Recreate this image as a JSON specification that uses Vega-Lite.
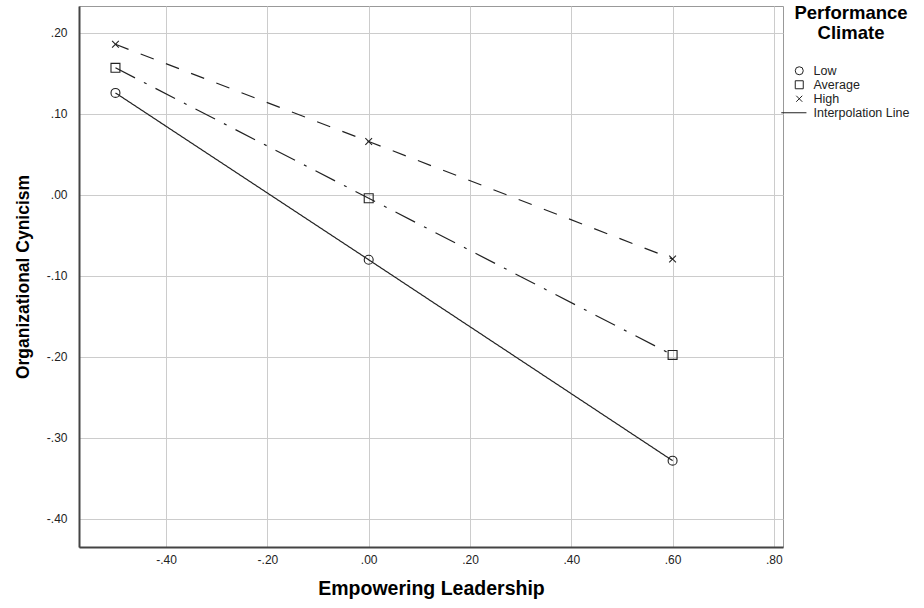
{
  "$schema": "https://vega.github.io/schema/vega-lite/v6.json",
  "width": 704,
  "height": 541,
  "autosize": {"type": "none"},
  "padding": {"left": 79, "top": 6, "right": 141, "bottom": 61},
  "background": "white",
  "config": {
    "font": "Liberation Sans",
    "view": {"stroke": "#999", "strokeWidth": 1}
  },
  "data": {
    "values": [
      {"x": -0.5, "y": 0.126, "series": "Low"},
      {"x": 0.0, "y": -0.080, "series": "Low"},
      {"x": 0.6, "y": -0.328, "series": "Low"},
      {"x": -0.5, "y": 0.157, "series": "Average"},
      {"x": 0.0, "y": -0.004, "series": "Average"},
      {"x": 0.6, "y": -0.1975, "series": "Average"},
      {"x": -0.5, "y": 0.186, "series": "High"},
      {"x": 0.0, "y": 0.066, "series": "High"},
      {"x": 0.6, "y": -0.079, "series": "High"}
    ]
  },
  "encoding": {
    "x": {
      "field": "x", "type": "quantitative",
      "scale": {"domain": [-0.572, 0.818], "nice": false, "zero": false},
      "axis": {
        "title": "Empowering Leadership",
        "values": [-0.4, -0.2, 0, 0.2, 0.4, 0.6, 0.8],
        "labelExpr": "(datum.value < -0.0001 ? '-' : '') + replace(format(abs(datum.value), '.2f'), '0.', '.')",
        "grid": true, "gridColor": "#cccccc", "gridWidth": 1,
        "ticks": false,
        "domain": true, "domainColor": "#444", "domainWidth": 2,
        "labelFontSize": 12, "labelColor": "#222", "labelPadding": 7,
        "titleFontSize": 19.5, "titleFontWeight": "bold", "titleColor": "#000", "titlePadding": 14
      }
    },
    "y": {
      "field": "y", "type": "quantitative",
      "scale": {"domain": [-0.4346, 0.2333], "nice": false, "zero": false},
      "axis": {
        "title": "Organizational Cynicism",
        "values": [-0.4, -0.3, -0.2, -0.1, 0, 0.1, 0.2],
        "labelExpr": "(datum.value < -0.0001 ? '-' : '') + replace(format(abs(datum.value), '.2f'), '0.', '.')",
        "grid": true, "gridColor": "#cccccc", "gridWidth": 1,
        "ticks": false,
        "domain": true, "domainColor": "#444", "domainWidth": 2,
        "labelFontSize": 12, "labelColor": "#222", "labelPadding": 12,
        "titleFontSize": 17.5, "titleFontWeight": "bold", "titleColor": "#000", "titlePadding": 14
      }
    }
  },
  "layer": [
    {
      "mark": {"type": "line", "color": "#222", "strokeWidth": 1.2},
      "encoding": {
        "strokeDash": {
          "field": "series", "type": "nominal",
          "scale": {"domain": ["Low", "Average", "High"], "range": [[1, 0], [22, 10, 3, 10], [14, 13]]},
          "legend": null
        }
      }
    },
    {
      "mark": {"type": "point", "filled": false, "color": "#222", "size": 80, "strokeWidth": 1.1, "opacity": 1},
      "encoding": {
        "shape": {
          "field": "series", "type": "nominal",
          "scale": {
            "domain": ["Low", "Average", "High", "Interpolation Line"],
            "range": ["circle", "square", "M-0.75,-0.75L0.75,0.75M-0.75,0.75L0.75,-0.75", "M-4.5,0H1.8"]
          },
          "legend": {
            "title": ["Performance", "Climate"],
            "orient": "none",
            "legendX": 714,
            "legendY": -2,
            "titleFontSize": 18.5,
            "titleFontWeight": "bold",
            "titleColor": "#000",
            "titleAnchor": "middle",
            "titleAlign": "center",
            "titleLimit": 400,
            "titleLineHeight": 20,
            "titlePadding": 22,
            "labelFontSize": 12.5,
            "labelColor": "#222",
            "labelOffset": 8,
            "labelLimit": 300,
            "symbolSize": 64,
            "symbolStrokeColor": "#222",
            "symbolFillColor": "transparent",
            "symbolStrokeWidth": 1,
            "symbolType": "circle",
            "rowPadding": 1
          }
        }
      }
    }
  ]
}
